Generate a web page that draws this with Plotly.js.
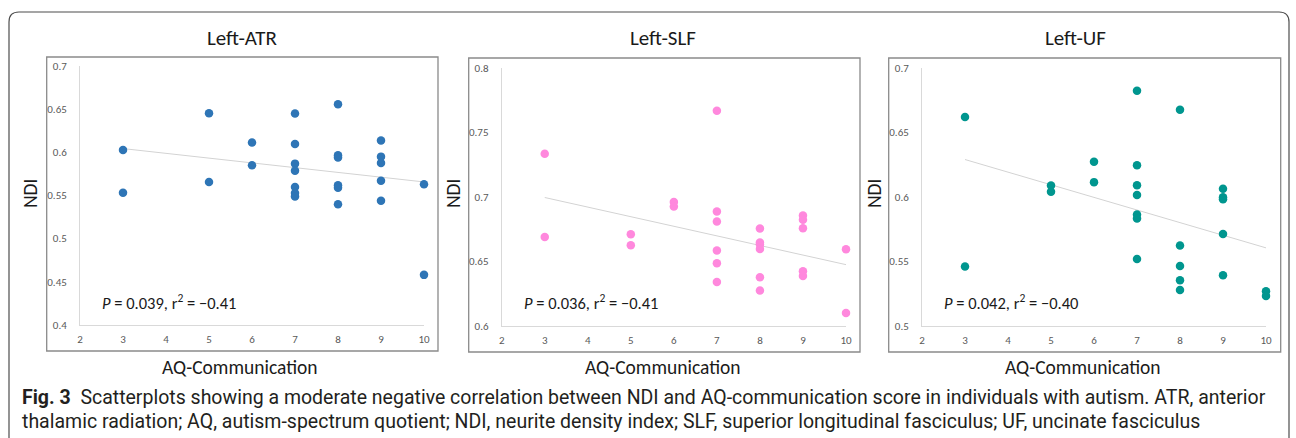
<!DOCTYPE html>
<html>
<head>
<meta charset="utf-8">
<script src="https://cdn.plot.ly/plotly-3.0.1.min.js"></script>
<style>html,body{margin:0;padding:0;background:#fff;}#chart{width:1296px;height:438px;}</style>
</head>
<body>
<div id="chart"></div>
<script>
// ---------- DATA ----------
const panelTitles = ["Left-ATR", "Left-SLF", "Left-UF"];
const xTitle = "AQ-Communication";
const yTitle = "NDI";
const statTexts = ["<i>P</i> = 0.039, r<sup>2</sup> = \u22120.41",
                   "<i>P</i> = 0.036, r<sup>2</sup> = \u22120.41",
                   "<i>P</i> = 0.042, r<sup>2</sup> = \u22120.40"];
const captionLine1 = "<b>Fig. 3</b>  Scatterplots showing a moderate negative correlation between NDI and AQ-communication score in individuals with autism. ATR, anterior";
const captionLine2 = "thalamic radiation; AQ, autism-spectrum quotient; NDI, neurite density index; SLF, superior longitudinal fasciculus; UF, uncinate fasciculus";

const xTicks = [2, 3, 4, 5, 6, 7, 8, 9, 10];

const atrX = [3, 3, 5, 5, 6, 6, 7, 7, 7, 7, 7, 7, 7, 8, 8, 8, 8, 8, 8, 9, 9, 9, 9, 9, 10, 10];
const atrY = [0.6026, 0.5531, 0.6451, 0.5655, 0.6111, 0.5848, 0.6447, 0.6095, 0.5867, 0.5786, 0.5597, 0.5527, 0.5488,
              0.6555, 0.5964, 0.5937, 0.5616, 0.5589, 0.5396, 0.6134, 0.5948, 0.5875, 0.5670, 0.5438, 0.5628, 0.4580];
const atrTrend = [0.6041, 0.5655];
const atrYTicks = [0.4, 0.45, 0.5, 0.55, 0.6, 0.65, 0.7];
const atrYLabels = ["0.4", "0.45", "0.5", "0.55", "0.6", "0.65", "0.7"];

const slfX = [3, 3, 5, 5, 6, 6, 7, 7, 7, 7, 7, 7, 8, 8, 8, 8, 8, 8, 9, 9, 9, 9, 9, 10, 10];
const slfY = [0.7333, 0.6690, 0.6711, 0.6625, 0.6961, 0.6925, 0.7667, 0.6886, 0.6809, 0.6584, 0.6486, 0.6341,
              0.6755, 0.6646, 0.6631, 0.6597, 0.6377, 0.6274, 0.6855, 0.6822, 0.6757, 0.6424, 0.6388, 0.6594, 0.6101];
const slfTrend = [0.6995, 0.6475];
const slfYTicks = [0.6, 0.65, 0.7, 0.75, 0.8];
const slfYLabels = ["0.6", "0.65", "0.7", "0.75", "0.8"];

const ufX = [3, 3, 5, 5, 6, 6, 7, 7, 7, 7, 7, 7, 7, 8, 8, 8, 8, 8, 9, 9, 9, 9, 9, 10, 10];
const ufY = [0.6618, 0.5460, 0.6088, 0.6039, 0.6271, 0.6114, 0.6822, 0.6245, 0.6090, 0.6015, 0.5863, 0.5832, 0.5519,
             0.6674, 0.5623, 0.5465, 0.5354, 0.5279, 0.6062, 0.5997, 0.5982, 0.5713, 0.5393, 0.5269, 0.5233];
const ufTrend = [0.6289, 0.5605];
const ufYTicks = [0.5, 0.55, 0.6, 0.65, 0.7];
const ufYLabels = ["0.5", "0.55", "0.6", "0.65", "0.7"];

const trendX = [3, 10];
const colors = ["#2E75B6", "#FF88DD", "#00968F"];

// ---------- LAYOUT HELPERS ----------
const W = 1296, H = 438;
const px = v => v / W;
const py = v => 1 - v / H;

const panels = [
  {x: atrX, y: atrY, trend: atrTrend, ticks: atrYTicks, labels: atrYLabels, range: [0.4, 0.7],
   plot: [80, 424, 65.7, 325], frame: [46.7, 438, 57, 351], title: 242, ndi: 30, stat: 100, xt: 240},
  {x: slfX, y: slfY, trend: slfTrend, ticks: slfYTicks, labels: slfYLabels, range: [0.6, 0.8],
   plot: [501.7, 846, 67.7, 326], frame: [468.7, 860, 58, 352], title: 663, ndi: 453, stat: 522, xt: 662.5},
  {x: ufX, y: ufY, trend: ufTrend, ticks: ufYTicks, labels: ufYLabels, range: [0.5, 0.7],
   plot: [922, 1266, 67.7, 326], frame: [888.7, 1280.7, 58, 352], title: 1075, ndi: 874, stat: 942, xt: 1083}
];

const FAM = "Carlito, Calibri, Lato, sans-serif";
const tickFont = {family: FAM, size: 11, color: "#595959"};
const labelFont = {family: FAM, size: 19.5, color: "#1a1a1a"};

const traces = [];
const layout = {
  width: W, height: H,
  margin: {l: 0, r: 0, t: 0, b: 0},
  paper_bgcolor: "#ffffff", plot_bgcolor: "rgba(0,0,0,0)",
  showlegend: false,
  shapes: [], annotations: []
};

panels.forEach((p, i) => {
  const n = i === 0 ? "" : String(i + 1);
  const xa = "x" + n, ya = "y" + n;
  traces.push({
    type: "scatter", mode: "lines", x: trendX, y: p.trend, xaxis: xa, yaxis: ya,
    line: {color: "#d3d3d3", width: 1}, hoverinfo: "skip"
  });
  traces.push({
    type: "scatter", mode: "markers", x: p.x, y: p.y, xaxis: xa, yaxis: ya, cliponaxis: false,
    marker: {color: colors[i], size: 8.5, line: {width: 0}}
  });
  layout["xaxis" + n] = {
    domain: [px(p.plot[0]), px(p.plot[1])], anchor: ya, range: [2, 10],
    tickvals: xTicks, ticktext: xTicks.map(String), tickfont: tickFont,
    showgrid: false, zeroline: false, showline: true, linecolor: "#d9d9d9", linewidth: 1,
    ticks: "", ticklabelstandoff: 4, fixedrange: true
  };
  layout["yaxis" + n] = {
    domain: [py(p.plot[3]), py(p.plot[2])], anchor: xa, range: p.range,
    tickvals: p.ticks, ticktext: p.labels, tickfont: tickFont,
    showgrid: false, zeroline: false, showline: true, linecolor: "#d9d9d9", linewidth: 1,
    ticks: "", ticklabelstandoff: 10, fixedrange: true
  };
  layout.shapes.push({type: "rect", xref: "paper", yref: "paper",
    x0: px(p.frame[0]), x1: px(p.frame[1]), y0: py(p.frame[3]), y1: py(p.frame[2]),
    line: {color: "#8a8a8a", width: 1.3}, fillcolor: "rgba(0,0,0,0)"});
  layout.annotations.push({text: panelTitles[i], xref: "paper", yref: "paper",
    x: px(p.title), y: py(38), xanchor: "center", yanchor: "middle", showarrow: false,
    font: {family: FAM, size: 21, color: "#1a1a1a"}});
  layout.annotations.push({text: yTitle, xref: "paper", yref: "paper", textangle: -90,
    x: px(p.ndi), y: py(193), xanchor: "center", yanchor: "middle", showarrow: false,
    font: labelFont});
  layout.annotations.push({text: xTitle, xref: "paper", yref: "paper",
    x: px(p.xt), y: py(367), xanchor: "center", yanchor: "middle", showarrow: false,
    font: labelFont});
  layout.annotations.push({text: statTexts[i], xref: "paper", yref: "paper",
    x: px(p.stat), y: py(302), xanchor: "left", yanchor: "middle", showarrow: false,
    font: {family: FAM, size: 16.5, color: "#1a1a1a"}});
});

// outer rounded frame
const fx0 = 9, fx1 = 1289, fy0 = 12, fy1 = 445, rr = 10;
const P = (x, y) => px(x) + "," + py(y);
layout.shapes.push({type: "path", xref: "paper", yref: "paper",
  path: "M" + P(fx0, fy1) + " L" + P(fx0, fy0 + rr) + " Q" + P(fx0, fy0) + " " + P(fx0 + rr, fy0) +
        " L" + P(fx1 - rr, fy0) + " Q" + P(fx1, fy0) + " " + P(fx1, fy0 + rr) + " L" + P(fx1, fy1),
  line: {color: "#4d4d4d", width: 1.2}});

// caption
const capFont = {family: "'Liberation Sans Narrow', Roboto, sans-serif", size: 19.5, color: "#231f20"};
layout.annotations.push({text: captionLine1, xref: "paper", yref: "paper", x: px(20), y: py(397),
  xanchor: "left", yanchor: "middle", showarrow: false, font: capFont});
layout.annotations.push({text: captionLine2, xref: "paper", yref: "paper", x: px(20), y: py(421),
  xanchor: "left", yanchor: "middle", showarrow: false, font: capFont});

Plotly.newPlot("chart", traces, layout, {staticPlot: true, displayModeBar: false});
</script>
</body>
</html>
